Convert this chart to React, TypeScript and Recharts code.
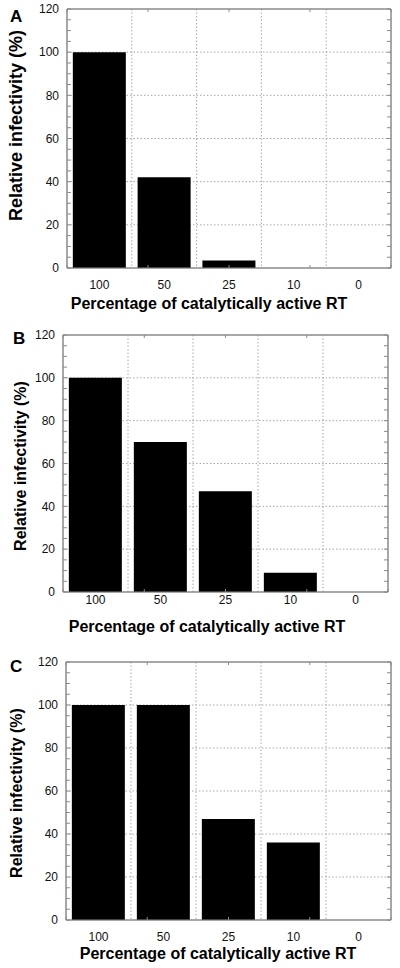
import React from 'react';
import { BarChart, Bar, XAxis, YAxis, CartesianGrid } from 'recharts';

// values (relative infectivity, %)
const categories = ['100', '50', '25', '10', '0'];
const infectivityA = [100, 42, 3.5, 0, 0];
const infectivityB = [100, 70, 47, 9, 0];
const infectivityC = [100, 100, 47, 36, 0];

const yTicks = [0, 5, 10, 15, 20, 25, 30, 35, 40, 45, 50, 55, 60, 65, 70, 75, 80, 85, 90, 95, 100, 105, 110, 115, 120];
const yMajor = [0, 20, 40, 60, 80, 100, 120];
const yMax = 120;
// five minor steps per category on the top and bottom frame
const xMinor = Array.from({ length: categories.length * 5 + 1 }, (_, i) => i);

const FONT = '"Liberation Sans", Arial, Helvetica, sans-serif';
const FRAME = '#8a8a8a';

interface PanelProps {
  letter: string;
  values: number[];
  top: number;
  height: number;
  margin: { top: number; right: number; left: number; bottom: number };
  yWidth: number;
  xHeight: number;
  xTickMargin: number;
  letterPos: { x: number; y: number };
  yTitle: { x: number; dy: number; size: number };
  xTitle: { dx: number; dy: number };
}

const NoLabel = () => <g />;

const YTick = (props: any) => {
  const { x, y, payload } = props;
  if (yMajor.indexOf(payload.value) < 0) return <g />;
  return (
    <text x={x} y={y} dy="0.355em" textAnchor="end" fontSize={12} fontFamily={FONT} fill="#111">
      {payload.value}
    </text>
  );
};

const Panel: React.FC<PanelProps> = (p) => {
  const data = categories.map((cat, i) => ({ cat, value: p.values[i] }));
  // the minor axes take 1px each on top, right and bottom
  const margin = { ...p.margin, top: p.margin.top - 1, right: p.margin.right - 1 };

  return (
    <div style={{ position: 'absolute', left: 0, top: p.top, width: 400, height: p.height }}>
      <BarChart width={400} height={p.height} data={data} margin={margin} barCategoryGap="9%">
        <CartesianGrid
          xAxisId="cat"
          stroke="#a8a8a8"
          strokeDasharray="1.5 2"
          verticalCoordinatesGenerator={({ offset }: any) =>
            categories.slice(1).map((_, i) => offset.left + (offset.width * (i + 1)) / categories.length)
          }
          horizontalCoordinatesGenerator={({ offset }: any) =>
            yMajor.slice(1, -1).map((v) => offset.top + offset.height * (1 - v / yMax))
          }
        />
        <CartesianGrid
          xAxisId="cat"
          stroke={FRAME}
          fill="none"
          verticalCoordinatesGenerator={({ offset }: any) => [offset.left, offset.left + offset.width]}
          horizontalCoordinatesGenerator={({ offset }: any) => [offset.top, offset.top + offset.height]}
        />
        <XAxis
          xAxisId="aMinor"
          type="number"
          domain={[0, xMinor.length - 1]}
          allowDataOverflow
          ticks={xMinor}
          interval={0}
          height={1}
          tick={NoLabel}
          tickSize={-3}
          axisLine={{ stroke: FRAME }}
          tickLine={{ stroke: FRAME }}
        />
        <XAxis
          xAxisId="cat"
          dataKey="cat"
          height={p.xHeight - 1}
          interval={0}
          tickSize={0}
          tickMargin={p.xTickMargin}
          tickLine={false}
          axisLine={false}
          tick={{ fontSize: 12, fontFamily: FONT, fill: '#111' }}
          label={({ viewBox }: any) => (
            <text
              x={viewBox.x + viewBox.width / 2 + p.xTitle.dx}
              y={viewBox.y + p.xTitle.dy}
              dy="0.35em"
              textAnchor="middle"
              fontSize={16}
              fontWeight="bold"
              fontFamily={FONT}
              fill="#000"
            >
              Percentage of catalytically active RT
            </text>
          )}
        />
        <XAxis
          xAxisId="topMinor"
          orientation="top"
          type="number"
          domain={[0, xMinor.length - 1]}
          allowDataOverflow
          ticks={xMinor}
          interval={0}
          height={1}
          tick={NoLabel}
          tickSize={-3}
          axisLine={{ stroke: FRAME }}
          tickLine={{ stroke: FRAME }}
        />
        <YAxis
          type="number"
          domain={[0, yMax]}
          allowDataOverflow
          ticks={yTicks}
          interval={0}
          width={p.yWidth}
          tickSize={-4}
          tickMargin={12}
          tick={YTick}
          axisLine={{ stroke: FRAME }}
          tickLine={{ stroke: FRAME }}
          label={({ viewBox }: any) => {
            const cx = p.yTitle.x;
            const cy = viewBox.y + viewBox.height / 2 + p.yTitle.dy;
            return (
              <g>
                <text
                  x={cx}
                  y={cy}
                  dy="0.35em"
                  transform={`rotate(-90 ${cx} ${cy})`}
                  textAnchor="middle"
                  fontSize={p.yTitle.size}
                  fontWeight="bold"
                  fontFamily={FONT}
                  fill="#000"
                >
                  Relative infectivity (%)
                </text>
                <text x={p.letterPos.x} y={p.letterPos.y} fontSize={17} fontWeight="bold" fontFamily={FONT} fill="#000">
                  {p.letter}
                </text>
              </g>
            );
          }}
        />
        <YAxis
          yAxisId="r"
          orientation="right"
          type="number"
          domain={[0, yMax]}
          allowDataOverflow
          ticks={yTicks}
          interval={0}
          width={1}
          tick={NoLabel}
          tickSize={-4}
          axisLine={{ stroke: FRAME }}
          tickLine={{ stroke: FRAME }}
        />
        <Bar xAxisId="cat" dataKey="value" fill="#000" isAnimationActive={false} />
      </BarChart>
    </div>
  );
};

export default function App() {
  return (
    <div style={{ position: 'absolute', left: 0, top: 0, width: 400, height: 968, background: '#fff' }}>
      <Panel
        letter="A"
        values={infectivityA}
        top={0}
        height={320}
        margin={{ top: 9, right: 9, left: 0, bottom: 0 }}
        yWidth={67}
        xHeight={52}
        xTickMargin={11.3}
        letterPos={{ x: 10, y: 21.7 }}
        yTitle={{ x: 16, dy: -13, size: 18 }}
        xTitle={{ dx: -20, dy: 34 }}
      />
      <Panel
        letter="B"
        values={infectivityB}
        top={320}
        height={320}
        margin={{ top: 15, right: 12, left: 0, bottom: 0 }}
        yWidth={63}
        xHeight={48}
        xTickMargin={2.1}
        letterPos={{ x: 13, y: 24 }}
        yTitle={{ x: 20, dy: 2.5, size: 16 }}
        xTitle={{ dx: -18.5, dy: 33 }}
      />
      <Panel
        letter="C"
        values={infectivityC}
        top={640}
        height={328}
        margin={{ top: 22, right: 9, left: 0, bottom: 0 }}
        yWidth={66}
        xHeight={48}
        xTickMargin={11.4}
        letterPos={{ x: 10, y: 32 }}
        yTitle={{ x: 16, dy: 2, size: 16 }}
        xTitle={{ dx: -10.5, dy: 32 }}
      />
    </div>
  );
}
